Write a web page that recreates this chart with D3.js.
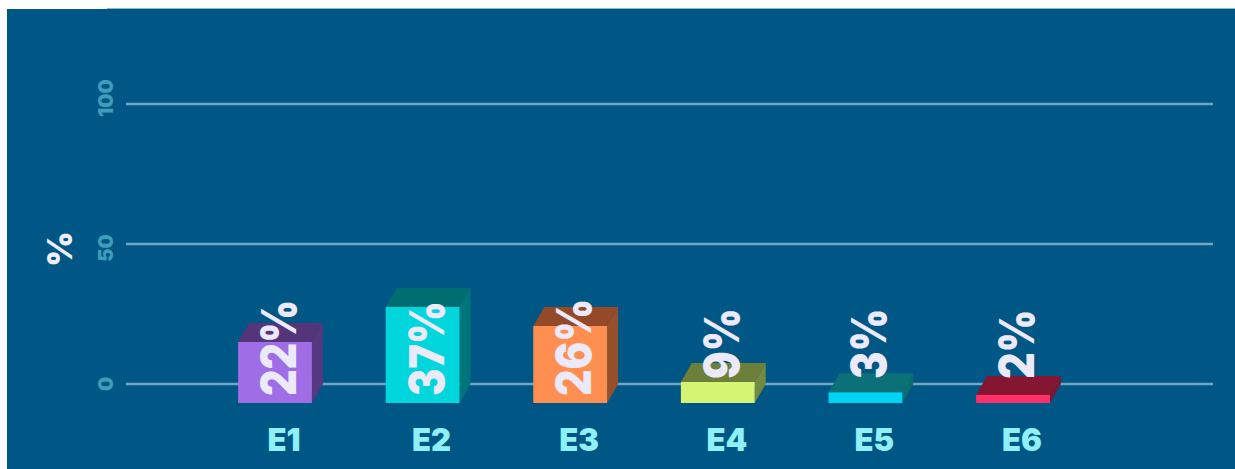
<!DOCTYPE html>
<html lang="en">

<head>
    <meta charset="UTF-8">
    <title>E1-E6 bars</title>
    <script src="https://cdnjs.cloudflare.com/ajax/libs/d3/7.8.5/d3.min.js"></script>
    <style>
        html, body {
            margin: 0;
            padding: 0;
            background-color: #fff;
            overflow: hidden;
        }
        text {
            font-family: Inter, "Open Sans", sans-serif;
            font-weight: 900;
        }
        .tick text {
            font-size: 20px;
            fill: #3f9cba;
        }
    </style>
</head>

<body>
    <div id="chart"></div>
    <script>
        const categories = ["E1", "E2", "E3", "E4", "E5", "E6"];
        // printed labels and bar heights do not agree in the picture, so both are kept
        const percentLabels = [22, 37, 26, 9, 3, 2];
        const barHeights = [21.8, 34.3, 27.5, 7.5, 3.8, 2.9];
        const yTicks = [0, 50, 100];
        const frontColors = ["#9f6ee6", "#00d6dc", "#ff8f50", "#d4f573", "#00d4f5", "#ff2f68"];
        const topColors = ["#55357a", "#006d70", "#944a28", "#6e7f3c", "#0c7078", "#851632"];
        const sideColors = ["#55387f", "#00757a", "#96502c", "#728a3f", "#0a6f70", "#7d1533"];

        const width = 1235;
        const height = 469;
        const depthX = 11;
        const depthY = 19;

        const svg = d3.select("#chart")
            .append("svg")
            .attr("width", width)
            .attr("height", height)
            .style("display", "block");

        // panel, with the small step along its top edge
        svg.append("rect")
            .attr("x", 7).attr("y", 9)
            .attr("width", width - 7).attr("height", height - 9)
            .attr("fill", "#005684");
        svg.append("rect")
            .attr("x", 107).attr("y", 8)
            .attr("width", width - 107).attr("height", 1)
            .attr("fill", "#8fb6cb");

        const x = d3.scaleBand()
            .domain(categories)
            .range([164.3, 1123.7])
            .padding(0.5);

        const y = d3.scaleLinear()
            .domain([0, 100])
            .range([384, 104]);

        const axis = svg.append("g")
            .attr("transform", "translate(126,-0.5)")
            .call(d3.axisLeft(y).tickValues(yTicks).tickSize(-1087).tickPadding(12));
        axis.select(".domain").remove();
        axis.selectAll(".tick line")
            .attr("stroke", "#6fa8c4")
            .attr("stroke-width", 2.5);
        // the tick labels sit a little off their lines in the original
        axis.selectAll(".tick text")
            .attr("text-anchor", "middle")
            .attr("dy", 0)
            .attr("transform", d => `translate(-13,${d === 100 ? -6 : d === 50 ? 4 : 0}) rotate(-90)`)
            .attr("x", 0)
            .attr("y", 0);

        svg.append("text")
            .attr("transform", "translate(72,249) rotate(-90)")
            .attr("text-anchor", "middle")
            .attr("font-size", 34)
            .attr("fill", "#f0eefc")
            .text("%");

        const bars = svg.append("g")
            .selectAll("g")
            .data(categories)
            .join("g");

        const barLeft = (d) => x(d);
        const barRight = (d) => x(d) + x.bandwidth();
        const barBottom = y(0) + depthY;
        const barTop = (d, i) => y(barHeights[i]) + depthY;

        // top face
        bars.append("path")
            .attr("fill", (d, i) => topColors[i])
            .attr("d", (d, i) => d3.line()([
                [barLeft(d), barTop(d, i)],
                [barLeft(d) + depthX, barTop(d, i) - depthY],
                [barRight(d) + depthX, barTop(d, i) - depthY],
                [barRight(d), barTop(d, i)]
            ]) + "Z");

        // side face
        bars.append("path")
            .attr("fill", (d, i) => sideColors[i])
            .attr("d", (d, i) => d3.line()([
                [barRight(d), barTop(d, i)],
                [barRight(d) + depthX, barTop(d, i) - depthY],
                [barRight(d) + depthX, barBottom - depthY],
                [barRight(d), barBottom]
            ]) + "Z");

        // front face
        bars.append("rect")
            .attr("x", d => barLeft(d))
            .attr("y", (d, i) => barTop(d, i))
            .attr("width", x.bandwidth())
            .attr("height", (d, i) => barBottom - barTop(d, i))
            .attr("fill", (d, i) => frontColors[i]);

        // labels run upward; the big bars start theirs lower down, inside the front face
        bars.append("text")
            .attr("transform", (d, i) => {
                const baseY = barHeights[i] > 10 ? barBottom - 7 : y(0) - 5;
                const baseX = x(d) + x.bandwidth() / 2 + 21;
                return `translate(${baseX},${baseY}) rotate(-90) scale(0.98,1.15)`;
            })
            .attr("font-size", 42)
            .attr("fill", "#ece9fb")
            .text((d, i) => percentLabels[i] + "%");

        bars.append("text")
            .attr("x", d => x(d) + x.bandwidth() / 2 + 9)
            .attr("y", 451)
            .attr("text-anchor", "middle")
            .attr("font-size", 31)
            .attr("fill", "#8ff0f5")
            .text(d => d);
    </script>
</body>

</html>
